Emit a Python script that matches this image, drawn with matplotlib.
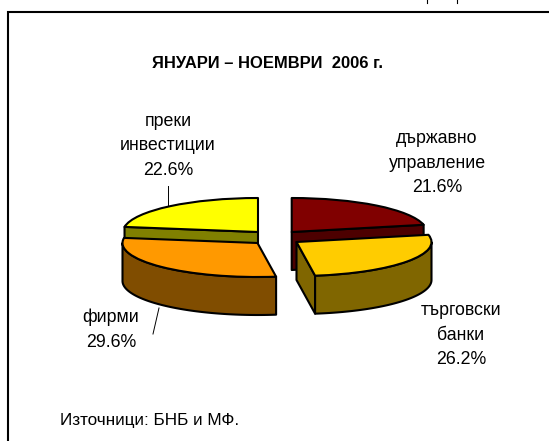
import numpy as np
import matplotlib
matplotlib.use("Agg")
import matplotlib.pyplot as plt
from matplotlib.patches import Wedge, Polygon
from matplotlib.transforms import Affine2D

plt.rcParams['font.family'] = ['Liberation Sans', 'DejaVu Sans']

title = "ЯНУАРИ – НОЕМВРИ  2006 г."
source = "Източници: БНБ и МФ."
labels = ["държавно\nуправление", "търговски\nбанки", "фирми", "преки\nинвестиции"]
values = [21.6, 26.2, 29.6, 22.6]
top_colors = ["#800000", "#ffcc00", "#ff9900", "#ffff00"]
side_colors = ["#4d0000", "#806600", "#804d00", "#808000"]
apexes = [(291.7, 232), (296.5, 242), (257.5, 243), (258, 232)]
label_pos = [(437, 163), (461, 335), (111, 330), (168, 146)]
leaders = [None, None, ((159, 308), (153, 334)), ((167.7, 186), (167.7, 205))]

R, RY, DEPTH = 135, 34, 38
W, H = 549, 441
EDGE = dict(edgecolor="black", linewidth=1.5, joinstyle="round")

fig = plt.figure(figsize=(W / 100, H / 100), dpi=100)
ax = fig.add_axes([0, 0, 1, 1])
ax.set_xlim(0, W)
ax.set_ylim(H, 0)
ax.axis("off")


def pt(c, a, dz=0):
    r = np.radians(a)
    return (c[0] + R * np.sin(r), c[1] - RY * np.cos(r) + dz)


def draw_slice(i, a0, a1):
    c = apexes[i]
    # radial faces turned towards the viewer
    if i in (0, 1):
        p = pt(c, a1)
        ax.add_patch(Polygon([c, p, (p[0], p[1] + DEPTH), (c[0], c[1] + DEPTH)],
                             facecolor=side_colors[i], **EDGE))
    if i == 3:
        p = pt(c, a0)
        ax.add_patch(Polygon([c, p, (p[0], p[1] + DEPTH), (c[0], c[1] + DEPTH)],
                             facecolor=side_colors[i], **EDGE))
    # outer wall
    lo, hi = max(a0, 90), min(a1, 270)
    if hi > lo:
        arc = np.linspace(lo, hi, 80)
        upper = [pt(c, a) for a in arc]
        lower = [pt(c, a, DEPTH) for a in arc[::-1]]
        ax.add_patch(Polygon(upper + lower, facecolor=side_colors[i], **EDGE))
    # top surface
    tr = Affine2D().scale(1, RY / R).translate(*c) + ax.transData
    ax.add_patch(Wedge((0, 0), R, a0 - 90, a1 - 90, facecolor=top_colors[i],
                       transform=tr, **EDGE))


angles = np.concatenate([[0], np.cumsum(values) / sum(values) * 360])
for i in [0, 3, 1, 2]:
    draw_slice(i, angles[i], angles[i + 1])

for i, (lab, v) in enumerate(zip(labels, values)):
    x, y = label_pos[i]
    ax.text(x, y, f"{lab}\n{v:.1f}%", ha="center", va="center", fontsize=12.8,
            color="black", linespacing=1.6)
    if leaders[i]:
        (x0, y0), (x1, y1) = leaders[i]
        ax.plot([x0, x1], [y0, y1], color="black", lw=0.7)

ax.text(268, 64, title, ha="center", va="center", fontsize=11.9, fontweight="bold", color="black")
ax.text(60, 420, source, ha="left", va="center", fontsize=12.3, color="black")

# frame: runs off the right and bottom edges
ax.plot([W + 5, 8, 8], [11.5, 11.5, H + 5], color="black", lw=1.5, solid_joinstyle="miter")
# cut-off descenders of the text above the frame
for x in (427, 457):
    ax.plot([x, x], [0, 3], color="black", lw=0.8)

fig.savefig("out.png", dpi=100)
